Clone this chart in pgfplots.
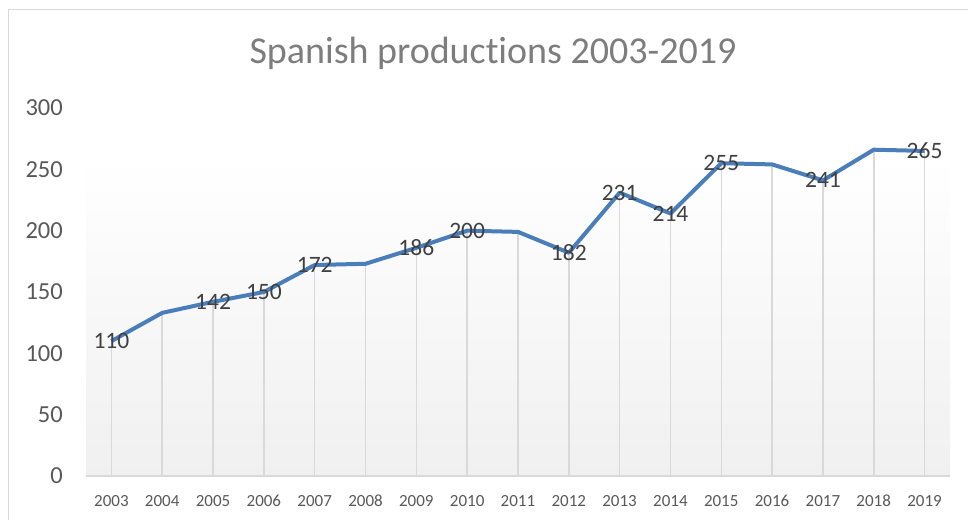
\documentclass[border=0pt]{standalone}
\usepackage{pgfplots}
\pgfplotsset{compat=1.18}
\usepackage{fontspec}
\setmainfont{Carlito}[Ligatures=NoCommon]
\definecolor{lineblue}{RGB}{74,126,187}
\definecolor{ticktext}{RGB}{89,89,89}
\definecolor{labeltext}{RGB}{64,64,64}
\definecolor{titletext}{RGB}{125,125,125}
\definecolor{dropgray}{RGB}{217,217,217}
\definecolor{bggray}{RGB}{240,240,240}
\pgfplotstableread{
year val
2003 110
2004 133
2005 142
2006 150
2007 172
2008 173
2009 186
2010 200
2011 199
2012 182
2013 231
2014 214
2015 255
2016 254
2017 241
2018 266
2019 265
}\datatable
\pgfplotstableread{
year val
2003 110
2005 142
2006 150
2007 172
2009 186
2010 200
2012 182
2013 231
2014 214
2015 255
2017 241
2019 265
}\labeltable
\begin{document}
\begin{tikzpicture}[x=1pt,y=1pt]
\path[use as bounding box] (0,0) rectangle (968,519);
\draw[dropgray, line width=1.5pt] (8.5,-20) -- (8.5,509.5) -- (1000,509.5);
\node[text=titletext, font=\fontsize{38}{41}\selectfont, anchor=base, inner sep=0pt] at (493,455) {Spanish produc\kern0pt tions 2003-2019};
\begin{axis}[
  at={(86pt,43pt)}, anchor=south west,
  scale only axis, width=864pt, height=368pt,
  xmin=2002.5, xmax=2019.5, ymin=0, ymax=300,
  axis line style={draw=none},
  xtick={2003,...,2019}, ytick={0,50,...,300},
  major tick length=0pt,
  /pgf/number format/assume math mode=true,
  /pgf/number format/1000 sep={},
  xticklabel style={text=ticktext, font=\fontsize{17}{19}\selectfont, anchor=base, inner sep=0pt, yshift=-30pt},
  yticklabel style={text=ticktext, font=\fontsize{24.5}{27}\selectfont, anchor=east, inner sep=0pt, xshift=-23pt},
  clip=false,
]
\fill[top color=white, bottom color=bggray] (axis cs:2002.5,0) rectangle (axis cs:2019.5,259);
\addplot[ycomb, dropgray, line width=1.5pt, mark=none] table[x=year,y=val] {\datatable};
\draw[dropgray, line width=2pt] (axis cs:2002.5,0) -- (axis cs:2019.5,0);
\addplot[lineblue, line width=4pt, mark=none, line join=round] table[x=year,y=val] {\datatable};
\addplot[draw=none, mark=none, nodes near coords, point meta=y,
  nodes near coords style={anchor=center, text=labeltext, font=\fontsize{23.5}{26}\selectfont,
  /pgf/number format/assume math mode=true}] table[x=year,y=val] {\labeltable};
\end{axis}
\end{tikzpicture}
\end{document}
